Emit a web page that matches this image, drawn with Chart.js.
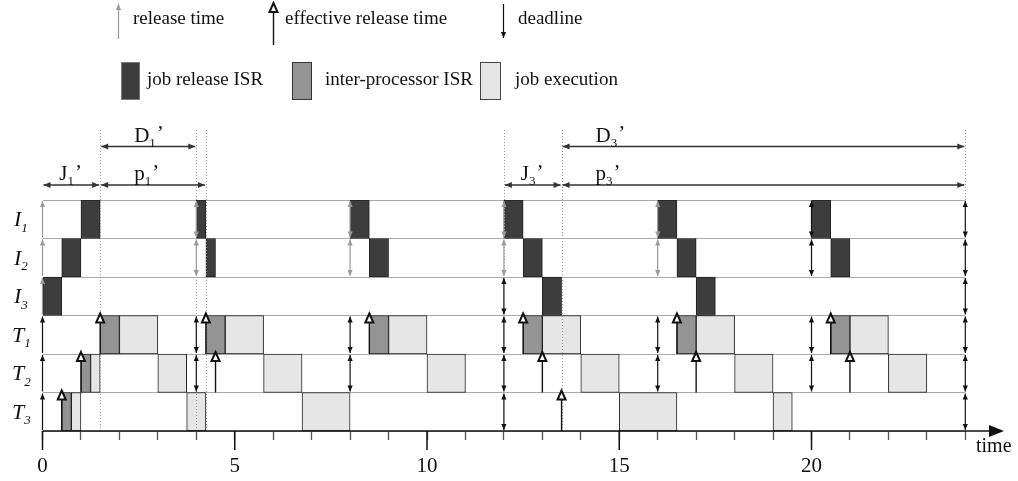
<!DOCTYPE html>
<html>
<head>
<meta charset="utf-8">
<script src="https://cdn.jsdelivr.net/npm/chart.js@4"></script>
<style>
  html, body { margin: 0; background: #fff; }
</style>
</head>
<body>
<canvas id="myChart" width="1018" height="481"></canvas>
<script>
// rows of the schedule, top to bottom
const rows = ['I1', 'I2', 'I3', 'T1', 'T2', 'T3'];

// [row, start, end]
const jobReleaseIsr = [
  ['I1', 1, 1.5], ['I1', 4, 4.25], ['I1', 8, 8.5], ['I1', 12, 12.5], ['I1', 16, 16.5], ['I1', 20, 20.5],
  ['I2', 0.5, 1], ['I2', 4.25, 4.5], ['I2', 8.5, 9], ['I2', 12.5, 13], ['I2', 16.5, 17], ['I2', 20.5, 21],
  ['I3', 0, 0.5], ['I3', 13, 13.5], ['I3', 17, 17.5]
];
const interProcessorIsr = [
  ['T1', 1.5, 2], ['T1', 4.25, 4.75], ['T1', 8.5, 9], ['T1', 12.5, 13], ['T1', 16.5, 17], ['T1', 20.5, 21],
  ['T2', 1, 1.25], ['T3', 0.5, 0.75]
];
const jobExecution = [
  ['T1', 2, 3], ['T1', 4.75, 5.75], ['T1', 9, 10], ['T1', 13, 14], ['T1', 17, 18], ['T1', 21, 22],
  ['T2', 1.25, 1.5], ['T2', 3, 3.75], ['T2', 5.75, 6.75], ['T2', 10, 11], ['T2', 14, 15], ['T2', 18, 19], ['T2', 22, 23],
  ['T3', 0.75, 1], ['T3', 3.75, 4.25], ['T3', 6.75, 8], ['T3', 15, 16.5], ['T3', 19, 19.5]
];

// release arrows (up only) [row, time]
const releaseGray = [['I1', 0], ['I2', 0], ['I3', 0]];
const releaseBlack = [['T1', 0], ['T2', 0], ['T3', 0]];
// release + deadline (double arrows)
const periodGray = [['I1', 4], ['I2', 4], ['I1', 8], ['I2', 8], ['I1', 12], ['I2', 12], ['I1', 16], ['I2', 16]];
const periodBlack = [
  ['I1', 20], ['I2', 20], ['I1', 24], ['I2', 24], ['I3', 12], ['I3', 24],
  ['T1', 4], ['T2', 4], ['T1', 8], ['T2', 8], ['T1', 12], ['T2', 12], ['T3', 12],
  ['T1', 16], ['T2', 16], ['T1', 20], ['T2', 20], ['T1', 24], ['T2', 24], ['T3', 24]
];
// effective release times [row, time]
const effectiveRelease = [
  ['T1', 1.5], ['T1', 4.25], ['T1', 8.5], ['T1', 12.5], ['T1', 16.5], ['T1', 20.5],
  ['T2', 1], ['T2', 4.5], ['T2', 13], ['T2', 17], ['T2', 21],
  ['T3', 0.5], ['T3', 13.5]
];

// interval annotations [letter, index, start, end]
const upperSpans = [['D', '1', 1.5, 4], ['D', '3', 13.5, 24]];
const lowerSpans = [['J', '1', 0, 1.5], ['p', '1', 1.5, 4.25], ['J', '3', 12, 13.5], ['p', '3', 13.5, 24]];
// dotted guide lines [time, last row reached]
const guides = [[1.5, 'T3'], [4, 'T3'], [4.25, 'T3'], [12, 'I2'], [13.5, 'T3'], [24, null]];

const majorTicks = [0, 5, 10, 15, 20];

const SERIF = '"Liberation Serif", "DejaVu Serif", serif';
const DARK = '#3d3d3d', MID = '#949494', LIGHT = '#e6e6e6', GRAY = '#9a9a9a';

const toBars = list => list.map(([r, s, e]) => ({ y: r, x: [s, e] }));

function head(c, x, y, dir, len, hw) {
  c.beginPath();
  c.moveTo(x, y);
  if (dir === 'up') { c.lineTo(x - hw, y + len); c.lineTo(x + hw, y + len); }
  if (dir === 'down') { c.lineTo(x - hw, y - len); c.lineTo(x + hw, y - len); }
  if (dir === 'left') { c.lineTo(x + len, y - hw); c.lineTo(x + len, y + hw); }
  if (dir === 'right') { c.lineTo(x - len, y - hw); c.lineTo(x - len, y + hw); }
  c.closePath();
  c.fill();
}

function vArrow(c, x, top, bottom, color, up, down) {
  c.strokeStyle = color; c.fillStyle = color; c.lineWidth = 1.2;
  c.beginPath(); c.moveTo(x, top + 1); c.lineTo(x, bottom - 1); c.stroke();
  if (up) head(c, x, top + 1, 'up', 6, 2.6);
  if (down) head(c, x, bottom - 1, 'down', 6, 2.6);
}

function effArrow(c, x, top, bottom) {
  c.strokeStyle = '#111'; c.lineWidth = 1.4;
  c.beginPath(); c.moveTo(x, bottom); c.lineTo(x, top + 6); c.stroke();
  c.beginPath();
  c.moveTo(x, top - 2); c.lineTo(x - 4, top + 7); c.lineTo(x + 4, top + 7); c.closePath();
  c.fillStyle = '#fff'; c.fill();
  c.lineWidth = 2; c.stroke();
}

function subText(c, x, y, main, sub, tail, size, italic) {
  const st = italic ? 'italic ' : '';
  c.fillStyle = '#111';
  c.textBaseline = 'alphabetic';
  c.textAlign = 'left';
  c.font = st + size + 'px ' + SERIF;
  c.fillText(main, x, y);
  let w = c.measureText(main).width;
  c.font = st + Math.round(size * 0.6) + 'px ' + SERIF;
  c.fillText(sub, x + w, y + size * 0.25);
  w += c.measureText(sub).width;
  if (tail) {
    c.font = size + 'px ' + SERIF;
    c.fillText(tail, x + w + 1, y - size * 0.05);
    w += c.measureText(tail).width + 1;
  }
  return w;
}

const overlay = {
  id: 'overlay',
  afterDatasetsDraw(chart) {
    const c = chart.ctx;
    const xs = chart.scales.x, ys = chart.scales.y;
    const px = v => xs.getPixelForValue(v);
    const rowH = ys.getPixelForValue(1) - ys.getPixelForValue(0);
    const top = r => ys.getPixelForValue(rows.indexOf(r)) - rowH / 2;
    const bottom = r => top(r) + rowH;
    const area = chart.chartArea;
    c.save();

    // dotted guides
    c.strokeStyle = GRAY; c.lineWidth = 1; c.setLineDash([1, 2]);
    guides.forEach(([t, r]) => {
      const x = Math.round(px(t)) + 0.5;
      c.beginPath(); c.moveTo(x, 130); c.lineTo(x, r ? bottom(r) : area.top); c.stroke();
    });
    c.setLineDash([]);

    // release / deadline arrows
    releaseGray.forEach(([r, t]) => vArrow(c, px(t), top(r), bottom(r), GRAY, true, false));
    releaseBlack.forEach(([r, t]) => vArrow(c, px(t), top(r), bottom(r), '#111', true, false));
    periodGray.forEach(([r, t]) => vArrow(c, px(t), top(r), bottom(r), GRAY, true, true));
    periodBlack.forEach(([r, t]) => vArrow(c, px(t), top(r), bottom(r), '#111', true, true));
    effectiveRelease.forEach(([r, t]) => effArrow(c, px(t), top(r), bottom(r)));

    // interval annotations
    const span = (list, y, offset) => list.forEach(([m, s, a, b]) => {
      const x1 = px(a) + 1, x2 = px(b) - 1;
      c.strokeStyle = '#333'; c.fillStyle = '#333'; c.lineWidth = 1.4;
      c.beginPath(); c.moveTo(x1, y); c.lineTo(x2, y); c.stroke();
      head(c, x1, y, 'left', 7, 3);
      head(c, x2, y, 'right', 7, 3);
      subText(c, px(a) + Math.min(offset, (x2 - x1 - 30) / 2 + 4), y - 5, m, s, '\u2019', 21, false);
    });
    span(upperSpans, 146.5, 34);
    span(lowerSpans, 185, 34);

    // row labels
    rows.forEach(r => {
      const y = top(r) + rowH / 2 + 7;
      subText(c, r[0] === 'T' ? 12 : 14, y, r[0], r.slice(1), '', 22, true);
    });

    // axis with arrow
    const ay = area.bottom;
    c.strokeStyle = '#111'; c.fillStyle = '#111'; c.lineWidth = 1.5;
    c.beginPath(); c.moveTo(area.left, ay); c.lineTo(992, ay); c.stroke();
    head(c, 1004, ay, 'right', 15, 6);
    majorTicks.forEach(t => {
      const x = px(t);
      c.beginPath(); c.moveTo(x, ay); c.lineTo(x, ay + 19); c.stroke();
    });
    c.font = '20px ' + SERIF; c.textAlign = 'left'; c.textBaseline = 'alphabetic';
    c.fillText('time', 976, 452);

    // legend
    c.font = '19px ' + SERIF;
    vArrow(c, 118.5, 3, 40, GRAY, true, false);
    c.fillStyle = '#111'; c.fillText('release time', 133, 24);
    c.strokeStyle = '#111'; c.lineWidth = 1.4;
    effArrow(c, 273.5, 5, 45);
    c.font = '19px ' + SERIF;
    c.fillStyle = '#111'; c.fillText('effective release time', 285, 24);
    vArrow(c, 503.5, 3, 39, '#111', false, true);
    c.fillStyle = '#111'; c.fillText('deadline', 518, 24);
    const box = (x, w, fill, stroke, text, tx) => {
      c.fillStyle = fill; c.fillRect(x, 62, w, 38);
      c.strokeStyle = stroke; c.lineWidth = 1; c.strokeRect(x + 0.5, 62.5, w - 1, 37);
      c.fillStyle = '#111'; c.fillText(text, tx, 85);
    };
    box(121, 19, DARK, '#777', 'job release ISR', 147);
    box(292, 20, MID, '#333', 'inter-processor ISR', 325);
    box(480, 21, LIGHT, '#444', 'job execution', 515);

    c.restore();
  }
};

const ctx = document.getElementById('myChart').getContext('2d');
new Chart(ctx, {
  type: 'bar',
  data: {
    labels: rows,
    datasets: [
      { label: 'job release ISR', data: toBars(jobReleaseIsr), backgroundColor: DARK, borderColor: '#222' },
      { label: 'inter-processor ISR', data: toBars(interProcessorIsr), backgroundColor: MID, borderColor: '#222' },
      { label: 'job execution', data: toBars(jobExecution), backgroundColor: LIGHT, borderColor: '#222' }
    ]
  },
  options: {
    indexAxis: 'y',
    responsive: false,
    animation: false,
    devicePixelRatio: 1,
    grouped: false,
    barPercentage: 1,
    categoryPercentage: 1,
    borderWidth: 1,
    borderSkipped: false,
    layout: { padding: { left: 42.5, right: 52.7, top: 200, bottom: 0 } },
    plugins: { legend: { display: false }, tooltip: { enabled: false } },
    scales: {
      x: {
        type: 'linear',
        min: 0,
        max: 24,
        afterFit: s => { s.height = 50; },
        grid: { drawOnChartArea: false, tickLength: 9, tickColor: '#555', tickWidth: 1.3 },
        border: { display: false },
        ticks: {
          stepSize: 1,
          autoSkip: false,
          maxRotation: 0,
          padding: 14,
          color: '#111',
          font: { family: SERIF, size: 21 },
          callback: v => majorTicks.includes(v) ? v : ''
        }
      },
      y: {
        type: 'category',
        afterFit: s => { s.width = 0; },
        grid: { offset: true, color: '#aaa', drawTicks: false },
        border: { display: false },
        ticks: { display: false }
      }
    }
  },
  plugins: [overlay]
});
</script>
</body>
</html>
